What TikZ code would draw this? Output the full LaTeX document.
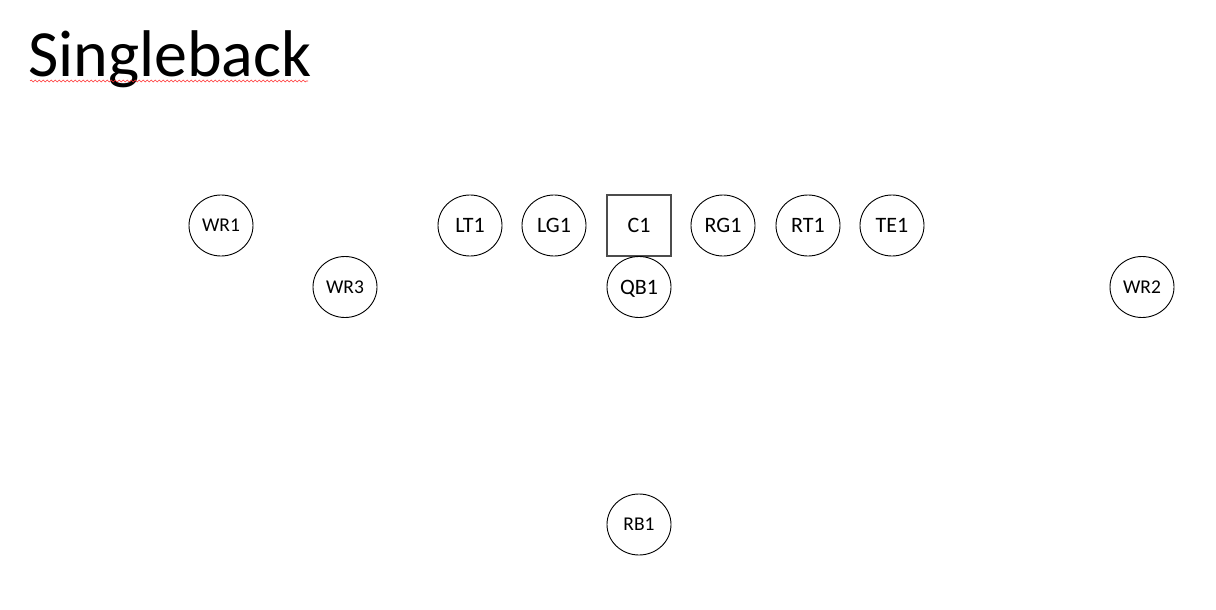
\documentclass[tikz,border=0pt]{standalone}
\usepackage{fontspec}
\setmainfont{Carlito}
\usetikzlibrary{shapes.geometric,decorations.pathmorphing}
\begin{document}
\begin{tikzpicture}[x=1pt,y=-1pt,
  player/.style={draw=black,line width=0.9pt,ellipse,minimum width=64pt,minimum height=61pt,inner sep=0pt,text height=14.2pt,text depth=0pt,font=\fontsize{22}{22}\selectfont},
  wide/.style={player,text height=12.6pt,font=\fontsize{19.5}{19.5}\selectfont},
  center/.style={draw=black!70,line width=1.2pt,rectangle,minimum width=64pt,minimum height=61pt,inner sep=0pt,text height=14.2pt,text depth=0pt,font=\fontsize{22}{22}\selectfont}]
\useasboundingbox[fill=white] (0,0) rectangle (1216,610);
\node[anchor=base west,inner sep=0pt,font=\fontsize{66}{66}\selectfont] (title) at (28,77) {Singleback};
\draw[red!80,line width=0.6pt,decorate,decoration={snake,amplitude=0.9pt,segment length=4pt}] (30,81) -- (308,81);
\node[wide] (WR1) at (221,225.5) {WR1};
\node[player] (LT1) at (470,225.5) {LT1};
\node[player] (LG1) at (554,225.5) {LG1};
\node[center] (C1) at (639,225.5) {C1};
\node[player] (RG1) at (723,225.5) {RG1};
\node[player] (RT1) at (808,225.5) {RT1};
\node[player] (TE1) at (892,225.5) {TE1};
\node[wide] (WR3) at (345,287) {WR3};
\node[player] (QB1) at (639,287) {QB1};
\node[wide] (WR2) at (1142,287) {WR2};
\node[wide] (RB1) at (639,524.5) {RB1};
\end{tikzpicture}
\end{document}
